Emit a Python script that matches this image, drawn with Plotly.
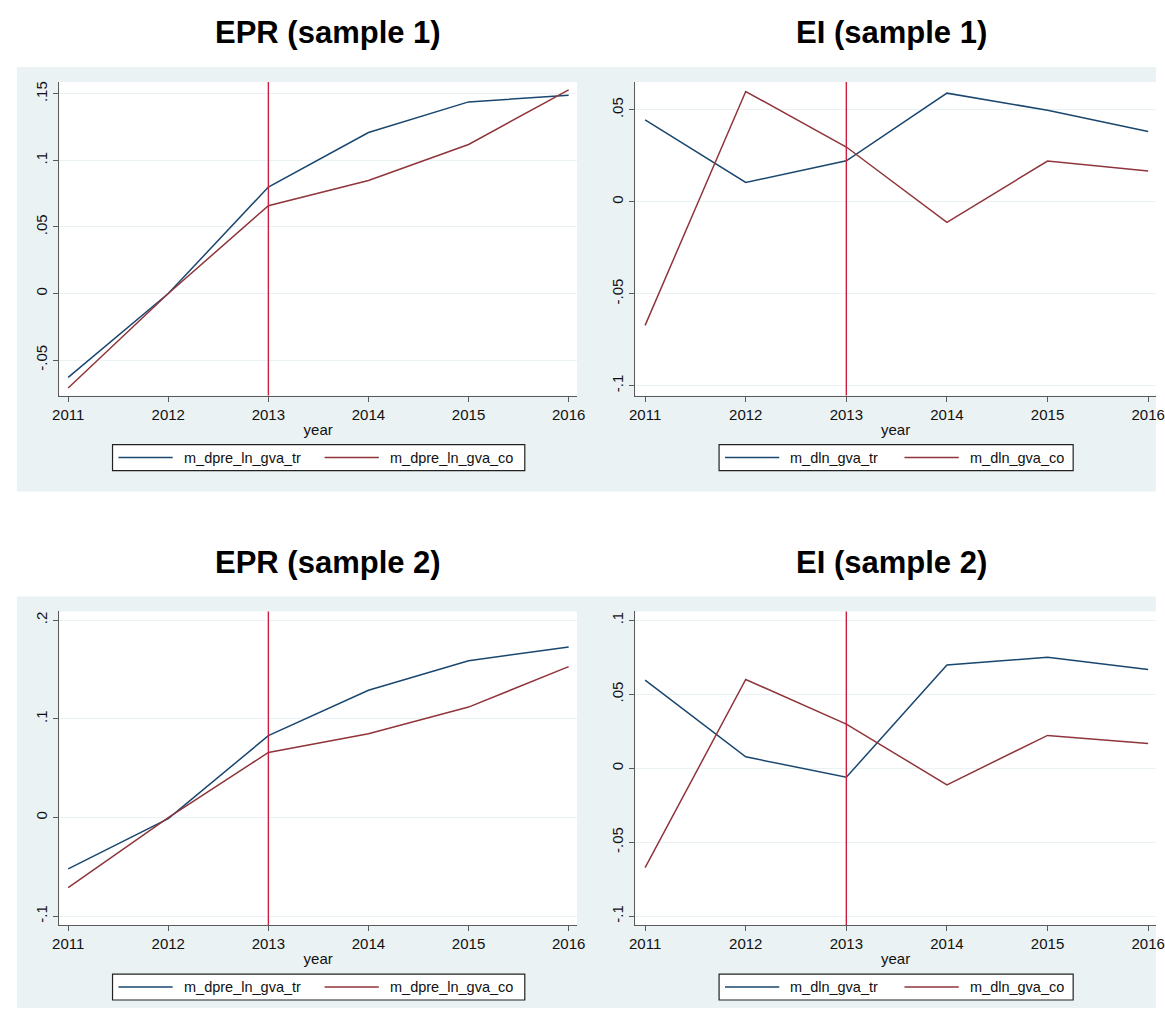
import plotly.graph_objects as go

# ---- data -------------------------------------------------------------
years = [2011, 2012, 2013, 2014, 2015, 2016]

epr1_tr = [-0.063, 0.000, 0.080, 0.121, 0.144, 0.149]
epr1_co = [-0.071, 0.000, 0.066, 0.085, 0.112, 0.153]

ei1_tr = [0.0446, 0.0105, 0.0223, 0.0591, 0.0498, 0.0382]
ei1_co = [-0.0672, 0.0600, 0.0298, -0.0112, 0.0222, 0.0168]

epr2_tr = [-0.052, -0.001, 0.083, 0.129, 0.159, 0.173]
epr2_co = [-0.071, 0.000, 0.066, 0.085, 0.112, 0.153]

ei2_tr = [0.0595, 0.0077, -0.0061, 0.0698, 0.0750, 0.0667]
ei2_co = [-0.0672, 0.0600, 0.0298, -0.0112, 0.0222, 0.0168]

titles = ["EPR (sample 1)", "EI (sample 1)", "EPR (sample 2)", "EI (sample 2)"]
epr_names = ["m_dpre_ln_gva_tr", "m_dpre_ln_gva_co"]
ei_names = ["m_dln_gva_tr", "m_dln_gva_co"]

epr1_ticks = [-0.05, 0, 0.05, 0.10, 0.15]
epr1_labels = ["-.05", "0", ".05", ".1", ".15"]
ei_ticks = [-0.10, -0.05, 0, 0.05, 0.10]
ei_labels = ["-.1", "-.05", "0", ".05", ".1"]
epr2_ticks = [-0.1, 0, 0.1, 0.2]
epr2_labels = ["-.1", "0", ".1", ".2"]
treat_year = 2013

# ---- styling ----------------------------------------------------------
W, H = 1165, 1011
BLUE = "#1a476f"
RED = "#90353b"
VLINE = "#cc1f3f"
BG = "#eaf2f3"
AXIS = "#5a5a5a"
FONT = "Liberation Sans, Arial, sans-serif"


def px_x(p):
    return p / W


def px_y(p):
    return 1 - p / H


# panel geometry in pixels: (left, right, top, bottom)
panels = [
    (53, 578, 81, 395),
    (637, 1165, 81, 395),
    (53, 578, 611, 925),
    (637, 1165, 611, 925),
]
yranges = [
    [-0.0767, 0.159],
    [-0.1054, 0.0652],
    [-0.109, 0.209],
    [-0.106, 0.106],
]
yticks = [(epr1_ticks, epr1_labels), (ei_ticks, ei_labels),
          (epr2_ticks, epr2_labels), (ei_ticks, ei_labels)]
xranges = [[2010.911, 2016.084], [2010.902, 2016.078],
           [2010.911, 2016.084], [2010.902, 2016.078]]
series = [(epr1_tr, epr1_co, epr_names), (ei1_tr, ei1_co, ei_names),
          (epr2_tr, epr2_co, epr_names), (ei2_tr, ei2_co, ei_names)]
title_pos = [(325, 32), (897, 32), (325, 562), (897, 562)]
# legend box: left, right, top, bottom, start of 2nd entry line, line length
legend_box = [
    (107, 525, 444, 470, 322),
    (722, 1081, 444, 470, 910),
    (107, 525, 974, 1000, 322),
    (722, 1081, 974, 1000, 910),
]
LEG_LINE = 55
LEG_GAP = 9

fig = go.Figure()
layout = dict(
    width=W, height=H,
    margin=dict(l=0, r=0, t=0, b=0),
    paper_bgcolor="white",
    plot_bgcolor="white",
    font=dict(family=FONT, size=15, color="#222"),
    showlegend=False,
)
shapes = []
annotations = []

# grey backgrounds behind each row of panels
for top, bottom in [(66, 491), (596, 1008)]:
    shapes.append(dict(type="rect", xref="paper", yref="paper", layer="below",
                       x0=px_x(10), x1=1.0, y0=px_y(bottom), y1=px_y(top),
                       fillcolor=BG, line=dict(width=0)))

for i, (l, r, t, b) in enumerate(panels):
    k = "" if i == 0 else str(i + 1)
    tr, co, names = series[i]

    # white plotting region on top of the grey frame
    shapes.append(dict(type="rect", xref=f"x{k} domain", yref=f"y{k} domain",
                       layer="below", x0=0, x1=1, y0=0, y1=1,
                       fillcolor="white", line=dict(width=0)))

    fig.add_trace(go.Scatter(x=years, y=tr, mode="lines", name=names[0],
                             line=dict(color=BLUE, width=1.5),
                             xaxis="x" + k, yaxis="y" + k))
    fig.add_trace(go.Scatter(x=years, y=co, mode="lines", name=names[1],
                             line=dict(color=RED, width=1.5),
                             xaxis="x" + k, yaxis="y" + k))

    layout["xaxis" + k] = dict(
        domain=[px_x(l), px_x(r)], anchor="y" + k, range=xranges[i],
        tickmode="array", tickvals=years, ticktext=[str(y) for y in years],
        ticks="outside", ticklen=5, tickcolor=AXIS, showgrid=False,
        showline=True, linecolor=AXIS, linewidth=1.3, zeroline=False,
        ticklabeloverflow="allow",
        tickfont=dict(size=15, color="#111"),
        title=dict(text="year", font=dict(size=15, color="#111"), standoff=2),
    )
    tv, tt = yticks[i]
    layout["yaxis" + k] = dict(
        domain=[px_y(b), px_y(t)], anchor="x" + k, range=yranges[i],
        tickmode="array", tickvals=tv, ticktext=tt, tickangle=-90,
        ticks="outside", ticklen=5, tickcolor=AXIS,
        showgrid=True, gridcolor=BG, gridwidth=1.3,
        showline=True, linecolor=AXIS, linewidth=1.3, zeroline=False,
        tickfont=dict(size=15, color="#111"),
    )

    # vertical reference line at the treatment year
    shapes.append(dict(type="line", xref="x" + k, yref=f"y{k} domain",
                       x0=treat_year, x1=treat_year, y0=0, y1=1,
                       line=dict(color=VLINE, width=1.4)))

    tx, ty = title_pos[i]
    annotations.append(dict(text=f"<b>{titles[i]}</b>", xref="paper", yref="paper",
                            x=px_x(tx), y=px_y(ty), xanchor="center", yanchor="middle",
                            showarrow=False, font=dict(size=31, color="black", family=FONT)))

    # legend box with line keys
    bl, br, bt, bb, second = legend_box[i]
    shapes.append(dict(type="rect", xref="paper", yref="paper",
                       x0=px_x(bl), x1=px_x(br), y0=px_y(bb), y1=px_y(bt),
                       fillcolor="white", line=dict(color="#222", width=1.2)))
    ymid = px_y((bt + bb) / 2)
    for start, color, name in [(bl + 6, BLUE, names[0]), (second, RED, names[1])]:
        shapes.append(dict(type="line", xref="paper", yref="paper",
                           x0=px_x(start), x1=px_x(start + LEG_LINE), y0=ymid, y1=ymid,
                           line=dict(color=color, width=1.5)))
        annotations.append(dict(text=name, xref="paper", yref="paper",
                                x=px_x(start + LEG_LINE + LEG_GAP), y=ymid,
                                xanchor="left", yanchor="middle", showarrow=False,
                                font=dict(size=14.5, color="#111", family=FONT)))

layout["shapes"] = shapes
layout["annotations"] = annotations
fig.update_layout(**layout)
fig.write_html("out.html")
